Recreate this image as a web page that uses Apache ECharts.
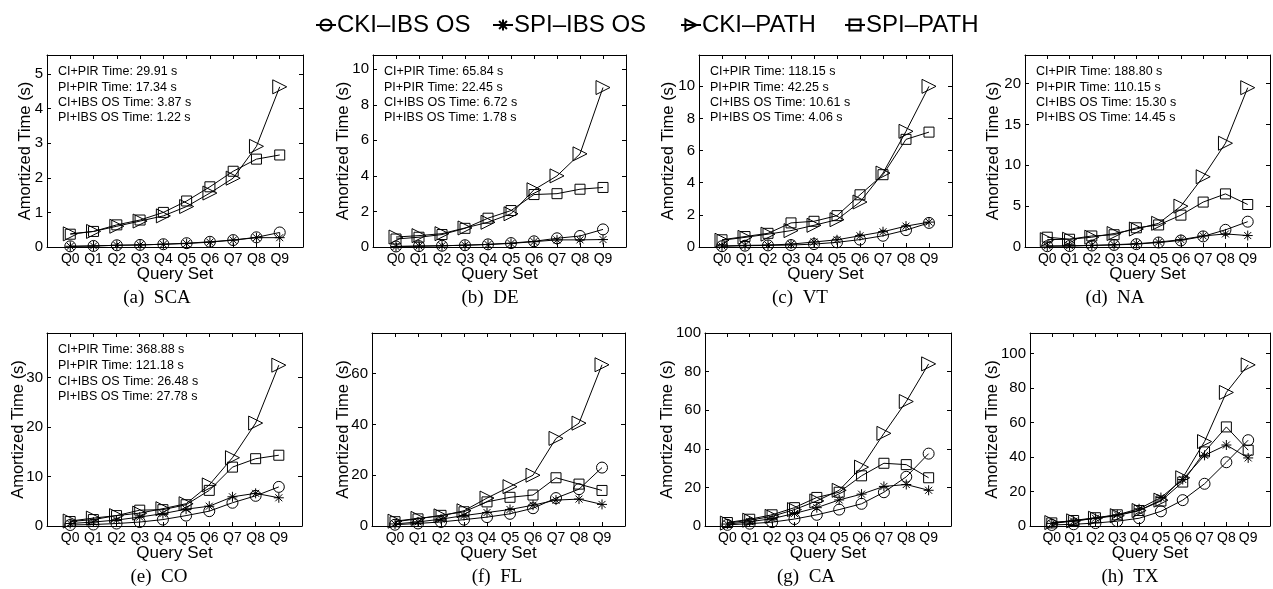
<!DOCTYPE html>
<html><head><meta charset="utf-8">
<script src="https://cdn.jsdelivr.net/npm/echarts@6/dist/echarts.min.js"></script>
<style>html,body{margin:0;padding:0;background:#fff}#c{width:1273px;height:589px}</style>
</head><body><div id="c"></div>
<script>
const queryLabels = ['Q0','Q1','Q2','Q3','Q4','Q5','Q6','Q7','Q8','Q9'];
const seriesNames = ['CKI–IBS OS','SPI–IBS OS','CKI–PATH','SPI–PATH'];
const panelTitles = ['(a)  SCA','(b)  DE','(c)  VT','(d)  NA','(e)  CO','(f)  FL','(g)  CA','(h)  TX'];

// SCA
const scaCkiIbs  = [0.02,0.03,0.05,0.06,0.08,0.11,0.15,0.20,0.28,0.42];
const scaSpiIbs  = [0.02,0.03,0.05,0.06,0.08,0.10,0.14,0.20,0.27,0.27];
const scaCkiPath = [0.38,0.45,0.60,0.75,0.90,1.17,1.56,1.99,2.91,4.63];
const scaSpiPath = [0.37,0.45,0.64,0.78,1.00,1.33,1.74,2.19,2.54,2.66];
// DE
const deCkiIbs  = [0.03,0.05,0.07,0.10,0.15,0.22,0.32,0.49,0.62,0.99];
const deSpiIbs  = [0.03,0.05,0.07,0.10,0.14,0.20,0.30,0.40,0.40,0.42];
const deCkiPath = [0.56,0.64,0.75,1.07,1.39,1.87,3.22,4.00,5.24,8.97];
const deSpiPath = [0.45,0.55,0.70,1.05,1.62,2.05,2.95,3.00,3.25,3.35];
// VT
const vtCkiIbs  = [0.05,0.08,0.10,0.12,0.18,0.29,0.46,0.70,1.05,1.50];
const vtSpiIbs  = [0.06,0.10,0.12,0.18,0.31,0.45,0.70,0.95,1.30,1.55];
const vtCkiPath = [0.42,0.60,0.80,1.02,1.35,1.70,2.80,4.60,7.20,10.00];
const vtSpiPath = [0.45,0.65,0.85,1.50,1.60,1.95,3.25,4.50,6.70,7.15];
// NA
const naCkiIbs  = [0.10,0.12,0.18,0.25,0.35,0.55,0.80,1.30,2.10,3.10];
const naSpiIbs  = [0.12,0.15,0.20,0.28,0.40,0.60,0.90,1.35,1.60,1.40];
const naCkiPath = [0.90,0.95,1.20,1.65,2.20,2.90,5.00,8.60,12.70,19.50];
const naSpiPath = [1.20,0.95,1.35,1.50,2.35,2.70,3.90,5.50,6.50,5.20];
// CO
const coCkiIbs  = [0.2,0.3,0.5,0.8,1.3,2.1,3.0,4.7,6.1,7.9];
const coSpiIbs  = [0.5,0.8,1.2,1.8,2.5,3.4,4.0,5.9,6.6,5.7];
const coCkiPath = [1.0,1.6,2.1,2.6,3.5,4.5,8.3,13.8,20.8,32.5];
const coSpiPath = [0.9,1.3,2.1,3.2,3.3,4.3,7.2,11.9,13.6,14.3];
// FL
const flCkiIbs  = [0.5,1.0,1.6,2.5,3.5,4.8,7.0,11.0,14.5,23.0];
const flSpiIbs  = [0.8,1.6,2.7,4.1,5.3,6.5,8.2,10.2,10.6,8.5];
const flCkiPath = [1.9,3.0,4.0,6.0,11.0,15.5,20.0,34.5,40.5,63.5];
const flSpiPath = [1.7,2.8,4.2,5.6,9.5,11.3,12.2,19.0,16.5,14.0];
// CA
const caCkiIbs  = [0.6,1.2,2.0,3.6,5.8,8.5,11.5,17.5,25.5,37.5];
const caSpiIbs  = [1.0,2.2,3.8,6.5,9.5,13.5,16.5,20.5,21.5,18.5];
const caCkiPath = [1.5,3.0,5.0,8.5,13.0,18.5,30.5,48.0,64.5,84.0];
const caSpiPath = [1.8,3.5,5.8,9.5,14.8,17.5,26.0,32.5,31.8,25.0];
// TX
const txCkiIbs  = [0.6,1.0,1.7,2.8,4.5,8.5,15.0,24.5,37.0,49.8];
const txSpiIbs  = [1.5,2.8,4.5,6.5,10.0,16.5,27.0,41.0,47.0,39.5];
const txCkiPath = [2.0,3.0,4.5,6.0,9.0,15.0,28.0,49.0,77.5,93.5];
const txSpiPath = [1.8,3.2,4.8,6.5,9.0,14.5,25.5,43.0,57.5,44.0];

const scaNotes = ['CI+PIR Time: 29.91 s','PI+PIR Time: 17.34 s','CI+IBS OS Time: 3.87 s','PI+IBS OS Time: 1.22 s'];
const deNotes  = ['CI+PIR Time: 65.84 s','PI+PIR Time: 22.45 s','CI+IBS OS Time: 6.72 s','PI+IBS OS Time: 1.78 s'];
const vtNotes  = ['CI+PIR Time: 118.15 s','PI+PIR Time: 42.25 s','CI+IBS OS Time: 10.61 s','PI+IBS OS Time: 4.06 s'];
const naNotes  = ['CI+PIR Time: 188.80 s','PI+PIR Time: 110.15 s','CI+IBS OS Time: 15.30 s','PI+IBS OS Time: 14.45 s'];
const coNotes  = ['CI+PIR Time: 368.88 s','PI+PIR Time: 121.18 s','CI+IBS OS Time: 26.48 s','PI+IBS OS Time: 27.78 s'];

const yMaxes = [5.55, 10.8, 11.95, 23.5, 39, 76, 100, 112];
const yIntervals = [1, 2, 2, 5, 10, 20, 20, 20];

const panelData = [
  [scaCkiIbs, scaSpiIbs, scaCkiPath, scaSpiPath],
  [deCkiIbs, deSpiIbs, deCkiPath, deSpiPath],
  [vtCkiIbs, vtSpiIbs, vtCkiPath, vtSpiPath],
  [naCkiIbs, naSpiIbs, naCkiPath, naSpiPath],
  [coCkiIbs, coSpiIbs, coCkiPath, coSpiPath],
  [flCkiIbs, flSpiIbs, flCkiPath, flSpiPath],
  [caCkiIbs, caSpiIbs, caCkiPath, caSpiPath],
  [txCkiIbs, txSpiIbs, txCkiPath, txSpiPath]
];
const panelNotes = [scaNotes, deNotes, vtNotes, naNotes, coNotes, null, null, null];

// layout (pixels)
const boxes = [
  {l:47, t:55, w:256, h:192}, {l:373, t:55, w:253, h:192}, {l:699, t:55, w:253, h:192}, {l:1025, t:55, w:253, h:192},
  {l:47, t:333, w:255, h:193}, {l:372, t:333, w:253, h:193}, {l:705, t:333, w:246, h:193}, {l:1030, t:333, w:246, h:193}
];
const yNameGaps = [13, 21, 22, 23, 20, 20, 29, 29];
const titlePos = [[157,298],[490,298],[800,298],[1115,298],[159,577],[497,577],[806,577],[1130,577]];

const SANS = "'Liberation Sans', Arial, Helvetica, sans-serif";
const SERIF = "'Liberation Serif', 'Times New Roman', serif";
const symbols = [
  {symbol:'circle', size:11},
  {symbol:'path://M5,0L5,10M0,5L10,5M1.5,1.5L8.5,8.5M1.5,8.5L8.5,1.5', size:10},
  {symbol:'path://M0,0L12,6L0,12Z', size:[14,14]},
  {symbol:'rect', size:10}
];

const grid = [], xAxis = [], yAxis = [], series = [], graphic = [];
boxes.forEach((b, i) => {
  grid.push({left:b.l, top:b.t, width:b.w, height:b.h, containLabel:false});
  const common = {
    type:'value', gridIndex:i, min:-1, max:10, interval:1,
    axisLine:{show:true, onZero:false, lineStyle:{color:'#000', width:1}},
    axisTick:{show:true, inside:true, length:4, lineStyle:{color:'#000'}},
    splitLine:{show:false}
  };
  xAxis.push(Object.assign({}, common, {
    position:'bottom',
    axisLabel:{show:true, margin:5, fontSize:14, color:'#000', fontFamily:SANS,
      formatter: v => { const k = Math.round(v); return (k >= 0 && k <= 9 && Math.abs(v-k) < 1e-6) ? queryLabels[k] : ''; }},
    name:'Query Set', nameLocation:'middle', nameGap:19, nameMoveOverlap:false,
    nameTextStyle:{fontSize:17, color:'#000', fontFamily:SANS}
  }));
  xAxis.push(Object.assign({}, common, {position:'top', axisLabel:{show:false}}));
  const iv = yIntervals[i];
  const ycommon = {
    type:'value', gridIndex:i, min:0, max:yMaxes[i], interval:iv,
    axisLine:{show:true, onZero:false, lineStyle:{color:'#000', width:1}},
    axisTick:{show:true, inside:true, length:4, lineStyle:{color:'#000'}},
    splitLine:{show:false}
  };
  yAxis.push(Object.assign({}, ycommon, {
    position:'left',
    axisLabel:{show:true, margin:4, fontSize:15, color:'#000', fontFamily:SANS,
      formatter: v => { const r = v / iv; return Math.abs(r - Math.round(r)) < 1e-6 ? String(Math.round(v)) : ''; }},
    name:'Amortized Time (s)', nameLocation:'middle', nameRotate:90, nameGap:yNameGaps[i], nameMoveOverlap:false,
    nameTextStyle:{fontSize:16.5, color:'#000', fontFamily:SANS}
  }));
  yAxis.push(Object.assign({}, ycommon, {position:'right', axisLabel:{show:false}}));

  panelData[i].forEach((vals, s) => {
    series.push({
      type:'line', name:seriesNames[s], xAxisIndex:2*i, yAxisIndex:2*i,
      data: vals.map((v, k) => [k, v]),
      symbol: symbols[s].symbol, symbolSize: symbols[s].size, showAllSymbol:true,
      lineStyle:{color:'#000', width:1},
      itemStyle:{color:'rgba(255,255,255,0)', borderColor:'#000', borderWidth:1},
      emphasis:{disabled:true}, z: 2 + s
    });
  });

  const notes = panelNotes[i];
  if (notes) {
    const step = i < 4 ? 15.3 : 15.6;
    notes.forEach((t, k) => {
      graphic.push({type:'text', x:b.l + 11, y:b.t + 17 + k*step,
        style:{text:t, fontSize:12.5, fontFamily:SANS, fill:'#000', align:'left', verticalAlign:'middle'}});
    });
  }
  graphic.push({type:'text', x:titlePos[i][0], y:titlePos[i][1],
    style:{text:panelTitles[i], fontSize:19, fontFamily:SERIF, fill:'#000', align:'center', verticalAlign:'middle'}});
});

const legendLefts = [310, 487, 675, 839];
const legend = seriesNames.map((n, k) => ({
  data:[n], left:legendLefts[k], top:8, itemWidth:20, itemHeight:14, itemGap:0,
  textStyle:{fontSize:24, color:'#000', fontFamily:SANS, padding:[0,0,0,-4]},
  selectedMode:false
}));

const chart = echarts.init(document.getElementById('c'), null, {renderer:'canvas'});
chart.setOption({
  animation:false, backgroundColor:'#fff',
  grid, xAxis, yAxis, series, legend, graphic
});
</script></body></html>
